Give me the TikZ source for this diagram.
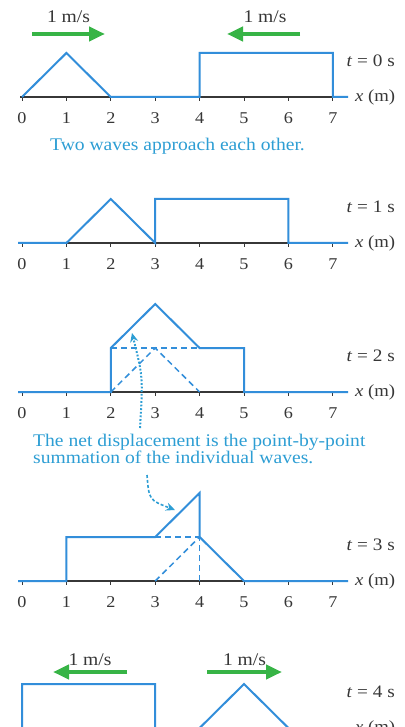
\documentclass[tikz,border=0pt]{standalone}
\usepackage{fontspec}
\setmainfont[FakeStretch=1.1]{Liberation Serif}
\usetikzlibrary{arrows.meta}
\definecolor{wblue}{RGB}{50,142,218}
\definecolor{cblue}{RGB}{45,158,212}
\definecolor{agreen}{RGB}{55,180,70}
\definecolor{tgray}{RGB}{55,55,55}
\tikzset{
  wave/.style={draw=wblue, line width=2pt, line join=miter},
  dashwave/.style={draw=wblue, line width=1.5pt, dash pattern=on 6pt off 4pt},
  axisline/.style={draw=tgray, line width=1.2pt},
  tickmark/.style={draw=tgray, line width=1pt},
  ticklabel/.style={font=\fontsize{16.5}{18}\selectfont, text=tgray, inner sep=0pt},
  tlabel/.style={font=\fontsize{17.5}{19}\selectfont, text=tgray, anchor=east, inner sep=0pt},
  xlabel/.style={font=\fontsize{17}{19}\selectfont, text=tgray, anchor=west, inner sep=0pt},
  speed/.style={font=\fontsize{17.8}{19}\selectfont, text=tgray, inner sep=0pt},
  greenarrow/.style={draw=agreen, line width=4.5pt, -{Triangle[length=16pt,width=14pt]}},
  captiontext/.style={font=\fontsize{17.8}{17}\selectfont, text=cblue, inner sep=0pt},
}
\newcommand{\panelaxis}[3]{%
  \draw[axisline] (-2pt,0) -- (326pt,0);
  \foreach \i in {0,...,7} {
    \draw[tickmark] (\i*44.4pt,0) -- (\i*44.4pt,-4pt);
  }
  #3
  \node[xlabel] (xl#1) at (333pt,0) {\textit{x} (m)};
  \node[tlabel] (tl#1) at (373pt,36pt) {\textit{t} = #2 s};
}
\newcommand{\numbers}[1]{%
  \foreach \i in {0,...,7} {
    \node[ticklabel] (n#1-\i) at (\i*44.4pt,-21pt) {\i};
  }
}
\begin{document}
\begin{tikzpicture}[x=44.4pt,y=44pt]
\clip (-22pt,97pt) rectangle (382pt,-630pt);
\fill[white] (-22pt,97pt) rectangle (382pt,-630pt);

% panel t=0
\begin{scope}
  \panelaxis{a}{0}{\numbers{a}}
  \draw[wave] (0,0) -- (1,1) -- (2,0) -- (4,0) -- (4,1) -- (7,1) -- (7,0) -- (326pt,0);
  \node[speed] (sa1) at (46.5pt,80pt) {1 m/s};
  \node[speed] (sa2) at (243pt,80pt) {1 m/s};
  \coordinate (ga1s) at (10pt,63pt);
  \coordinate (ga1e) at (83pt,63pt);
  \coordinate (ga2s) at (278pt,63pt);
  \coordinate (ga2e) at (205pt,63pt);
  \draw[greenarrow] (ga1s) -- (ga1e);
  \draw[greenarrow] (ga2s) -- (ga2e);
  \node[captiontext] (cap1) at (155.5pt,-49pt) {Two waves approach each other.};
\end{scope}

% panel t=1
\begin{scope}[yshift=-146pt]
  \panelaxis{b}{1}{\numbers{b}}
  \draw[wave] (-4pt,0) -- (1,0) -- (2,1) -- (3,0) -- (3,1) -- (6,1) -- (6,0) -- (326pt,0);
\end{scope}

% panel t=2
\begin{scope}[yshift=-295pt]
  \panelaxis{c}{2}{\numbers{c}}
  \draw[dashwave] (2,1) -- (4,1);
  \draw[dashwave] (2,0) -- (3,1) -- (4,0);
  \draw[wave] (-4pt,0) -- (2,0) -- (2,1) -- (3,2) -- (4,1) -- (5,1) -- (5,0) -- (326pt,0);
\end{scope}

% caption 2 and arrows
\node[captiontext, anchor=base west] (cap2a) at (11pt,-349.5pt)
  {The net displacement is the point-by-point};
\node[captiontext, anchor=base west] (cap2b) at (11pt,-366.5pt)
  {summation of the individual waves.};
\coordinate (d1s) at (118pt,-331pt);
\coordinate (d1e) at (110pt,-236pt);
\draw[cblue, line width=2pt, dash pattern=on 1.8pt off 1.8pt, -{Stealth[length=9pt,width=8pt]}]
  (d1s) .. controls (121pt,-280pt) .. (d1e);
\coordinate (d2s) at (125pt,-378pt);
\coordinate (d2e) at (153pt,-413pt);
\draw[cblue, line width=1.6pt, dash pattern=on 3pt off 2pt, -{Stealth[length=9pt,width=8pt]}]
  (d2s) .. controls (127pt,-403pt) .. (d2e);

% panel t=3
\begin{scope}[yshift=-484pt]
  \panelaxis{d}{3}{\numbers{d}}
  \draw[dashwave] (3,1) -- (4,1);
  \draw[dashwave] (3,0) -- (4,1);
  \draw[dashwave] (4,0) -- (4,1);
  \draw[wave] (-4pt,0) -- (1,0) -- (1,1) -- (3,1) -- (4,2) -- (4,1) -- (5,0) -- (326pt,0);
\end{scope}

% panel t=4
\begin{scope}[yshift=-631pt]
  \panelaxis{e}{4}{}
  \draw[wave] (-4pt,0) -- (0,0) -- (0,1) -- (3,1) -- (3,0) -- (4,0) -- (5,1) -- (6,0) -- (326pt,0);
  \node[speed] (se1) at (68pt,68.5pt) {1 m/s};
  \node[speed] (se2) at (222.5pt,68.5pt) {1 m/s};
  \coordinate (ge1s) at (105pt,56pt);
  \coordinate (ge1e) at (31pt,56pt);
  \coordinate (ge2s) at (185pt,56pt);
  \coordinate (ge2e) at (260pt,56pt);
  \draw[greenarrow] (ge1s) -- (ge1e);
  \draw[greenarrow] (ge2s) -- (ge2e);
\end{scope}
\end{tikzpicture}
\end{document}
